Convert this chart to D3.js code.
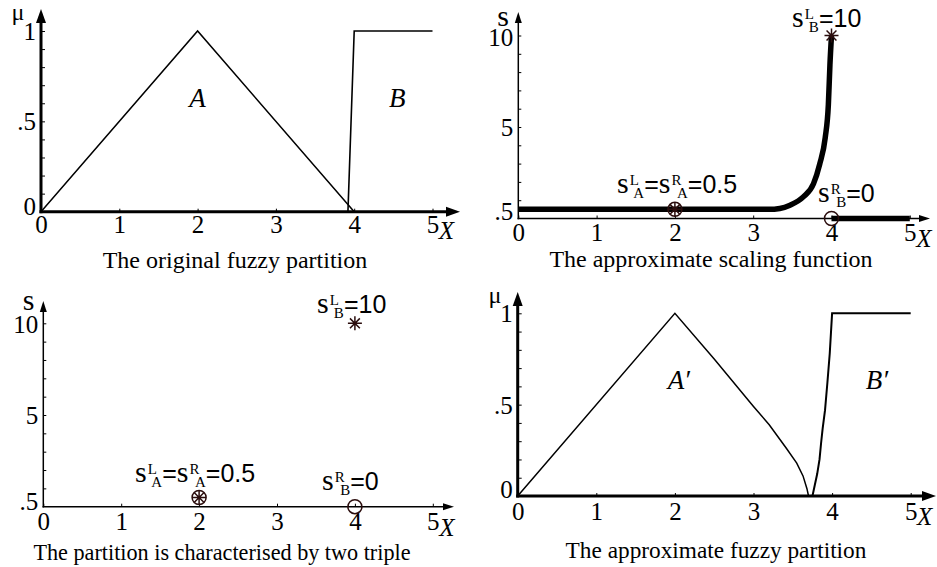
<!DOCTYPE html>
<html><head><meta charset="utf-8">
<script src="https://cdn.jsdelivr.net/npm/d3@7"></script>
<style>
html,body{margin:0;padding:0;background:#fff;}
svg{display:block;}
text{font-family:"Liberation Serif","Times New Roman",serif;fill:#000;}
</style></head><body>
<svg id="fig" width="937" height="567"></svg>
<script>
// shared tick values
const xTickValues = [0, 1, 2, 3, 4, 5];
const muTickValues = [0, 0.5, 1];
const muTickLabels = ["0", ".5", "1"];
const sTickValues = [0.5, 5, 10];
const sTickLabels = [".5", "5", "10"];

// original fuzzy partition
const aX = [0, 2, 4];
const aMu = [0, 1, 0];
const bX = [3.92, 4, 5];
const bMu = [0, 1, 1];

// approximate scaling function
const scaleX = [0, 3.2, 3.34, 3.47, 3.64, 3.77, 3.85, 3.92, 3.96, 3.98, 4.0];
const scaleS = [0.5, 0.5, 0.55, 0.73, 1.18, 1.9, 2.98, 4.42, 6.23, 8.4, 10];
const tailX = [4, 5];
const tailS = [0, 0];

// triples: position, left scaling, right scaling
const tripleX = [2, 4];
const tripleSL = [0.5, 10];
const tripleSR = [0.5, 0];

// approximate fuzzy partition
const aPX = [0, 2, 2.5, 3.0, 3.2, 3.42, 3.55, 3.63, 3.68, 3.70];
const aPMu = [0, 1, 0.75, 0.49, 0.39, 0.26, 0.18, 0.11, 0.04, 0];
const bPX = [3.75, 3.78, 3.81, 3.84, 3.86, 3.88, 3.91, 3.94, 3.97, 4.0, 5];
const bPMu = [0, 0.06, 0.12, 0.2, 0.29, 0.37, 0.47, 0.62, 0.78, 1, 1];

const svg = d3.select("#fig");
const SANS = "'Liberation Sans', Arial, sans-serif";
const MARK = "#2b0d0d";

function arrowUp(g, x, tip, len, w) {
  g.append("path").attr("d", `M${x},${tip} L${x - w / 2},${tip + len} L${x + w / 2},${tip + len} Z`).attr("fill", "#000");
}
function arrowRight(g, tip, y, len, w) {
  g.append("path").attr("d", `M${tip},${y} L${tip - len},${y - w / 2} L${tip - len},${y + w / 2} Z`).attr("fill", "#000");
}

function makePanel(c) {
  const g = svg.append("g");
  const x = d3.scaleLinear().domain([0, 5]).range(c.xr);
  const y = d3.scaleLinear().domain(c.yd).range(c.yr);
  const x0 = x(0), y0 = y(0);

  // minor ticks on the vertical axis, pointing into the plot
  g.append("g").attr("transform", `translate(${x0},0)`)
    .call(d3.axisRight(y).tickValues(c.minor).tickSize(c.tickLen).tickFormat(""))
    .call(s => s.select(".domain").remove())
    .selectAll("line").attr("stroke", "#000").attr("stroke-width", 1);

  // horizontal axis ticks and labels
  const xa = g.append("g").attr("transform", `translate(0,${y0})`)
    .call(d3.axisBottom(x).tickValues(xTickValues).tickSize(-3).tickPadding(c.xPad).tickFormat(d3.format("d")))
    .call(s => s.select(".domain").remove());
  xa.selectAll("line").attr("stroke", "#000").attr("stroke-width", 1);
  xa.selectAll("text").attr("font-family", "'Liberation Serif', serif").attr("font-size", 25).attr("fill", "#000");

  // axis lines with arrowheads
  g.append("line").attr("x1", x0).attr("x2", x0).attr("y1", y0 + c.aw / 2).attr("y2", c.tipY + c.al - 1)
    .attr("stroke", "#000").attr("stroke-width", c.aw);
  g.append("line").attr("x1", x0 - c.aw / 2).attr("x2", c.tipX - c.al + 1).attr("y1", y0).attr("y2", y0)
    .attr("stroke", "#000").attr("stroke-width", c.aw);
  arrowUp(g, x0, c.tipY, c.al, c.awid);
  arrowRight(g, c.tipX, y0, c.al, c.awid);

  // vertical tick labels
  c.yVals.forEach((v, i) => {
    g.append("text").attr("x", x0 - 5).attr("y", y(v) + c.yLabDy[i])
      .attr("text-anchor", "end").attr("font-size", 25).text(c.yLabs[i]);
  });

  // axis names
  g.append("text").attr("x", c.yName[0]).attr("y", c.yName[1]).attr("text-anchor", "middle")
    .attr("font-size", c.yName[3]).text(c.yName[2]);
  g.append("text").attr("x", x(5) + 14).attr("y", y0 + c.xPad + 23).attr("text-anchor", "middle")
    .attr("font-size", 25).attr("font-style", "italic").text("X");

  // caption
  g.append("text").attr("x", c.title[0]).attr("y", c.title[1]).attr("text-anchor", "middle")
    .attr("font-size", c.title[3]).text(c.title[2]);
  return { g, x, y };
}

// "s" with stacked super/subscripts followed by a value
function sLabel(g, px, py, items, tail) {
  const t = g.append("text").attr("x", px).attr("y", py);
  items.forEach((it, i) => {
    t.append("tspan").attr("font-size", 30).attr("dy", 0).text("s");
    t.append("tspan").attr("font-size", 15).attr("dy", -8).attr("dx", 1).text(it.sup);
    t.append("tspan").attr("font-size", 15).attr("dy", 13).attr("dx", it.subDx).text(it.sub);
    if (i < items.length - 1) {
      t.append("tspan").attr("font-size", 25).attr("font-family", SANS).attr("dy", -5).text("=");
    }
  });
  t.append("tspan").attr("font-size", 25).attr("font-family", SANS).attr("dy", -5).text(tail);
}

function asterisk(g, cx, cy, r) {
  const d = [0, 45, 90, 135].map(a => {
    const rad = a * Math.PI / 180, dx = r * Math.cos(rad), dy = r * Math.sin(rad);
    return `M${cx - dx},${cy - dy}L${cx + dx},${cy + dy}`;
  }).join("");
  g.append("path").attr("d", d).attr("stroke", MARK).attr("stroke-width", 1.5).attr("fill", "none");
}
function ring(g, cx, cy, r) {
  g.append("circle").attr("cx", cx).attr("cy", cy).attr("r", r)
    .attr("fill", "none").attr("stroke", MARK).attr("stroke-width", 1.5);
}

const muMinor = d3.range(1, 11).map(d => d / 10);
const sMinor = d3.range(1, 11);

// ---- panel 1: original partition
const p1 = makePanel({
  xr: [41, 432.5], yd: [0, 1], yr: [211.7, 31], minor: muMinor, tickLen: 4,
  tipX: 460, tipY: 9, aw: 3, al: 14, awid: 10, xPad: 4,
  yVals: muTickValues, yLabs: muTickLabels, yLabDy: [3, 9, 9],
  yName: [18, 20, "μ", 24], title: [235, 268, "The original fuzzy partition", 24]
});
const line1 = d3.line().x(d => p1.x(d[0])).y(d => p1.y(d[1]));
p1.g.append("path").attr("d", line1(d3.zip(aX, aMu))).attr("fill", "none").attr("stroke", "#000").attr("stroke-width", 1.5);
p1.g.append("path").attr("d", line1(d3.zip(bX, bMu))).attr("fill", "none").attr("stroke", "#000").attr("stroke-width", 1.6);
p1.g.append("text").attr("x", p1.x(2)).attr("y", 107).attr("text-anchor", "middle").attr("font-size", 27).attr("font-style", "italic").text("A");
p1.g.append("text").attr("x", p1.x(4.55)).attr("y", 107).attr("text-anchor", "middle").attr("font-size", 27).attr("font-style", "italic").text("B");

// ---- panel 2: approximate scaling function
const p2 = makePanel({
  xr: [518.3, 909.8], yd: [0, 10], yr: [218.5, 35.5], minor: sMinor, tickLen: 3,
  tipX: 930, tipY: 12, aw: 1.5, al: 11, awid: 7, xPad: 5,
  yVals: sTickValues, yLabs: sTickLabels, yLabDy: [11, 9, 10],
  yName: [503, 26, "s", 30], title: [711, 267, "The approximate scaling function", 24]
});
const line2 = d3.line().x(d => p2.x(d[0])).y(d => p2.y(d[1])).curve(d3.curveMonotoneX);
p2.g.append("path").attr("d", line2(d3.zip(scaleX, scaleS))).attr("fill", "none").attr("stroke", "#000").attr("stroke-width", 5.5);
p2.g.append("path").attr("d", d3.line().x(d => p2.x(d[0])).y(d => p2.y(d[1]))(d3.zip(tailX, tailS))).attr("fill", "none").attr("stroke", "#000").attr("stroke-width", 5.5);

// ---- panel 3: the two triples
const p3 = makePanel({
  xr: [43.3, 432.8], yd: [0, 10], yr: [506.7, 323.3], minor: sMinor, tickLen: 3,
  tipX: 454, tipY: 301, aw: 1.5, al: 11, awid: 7, xPad: 6,
  yVals: sTickValues, yLabs: sTickLabels, yLabDy: [12, 9, 10],
  yName: [28.5, 310, "s", 30], title: [222, 560, "The partition is characterised by two triple", 22.2]
});

[p2, p3].forEach(p => {
  tripleX.forEach((tx, i) => {
    asterisk(p.g, p.x(tx), p.y(tripleSL[i]), 7);
    ring(p.g, p.x(tx), p.y(tripleSR[i]), 7);
  });
});
sLabel(p2.g, 792, 27, [{ sup: "L", sub: "B", subDx: -5 }], "=10");
sLabel(p2.g, 617, 193, [{ sup: "L", sub: "A", subDx: -5.5 }, { sup: "R", sub: "A", subDx: -4.5 }], "=0.5");
sLabel(p2.g, 818, 202, [{ sup: "R", sub: "B", subDx: -4.5 }], "=0");
sLabel(p3.g, 317, 313, [{ sup: "L", sub: "B", subDx: -5 }], "=10");
sLabel(p3.g, 135, 482, [{ sup: "L", sub: "A", subDx: -5.5 }, { sup: "R", sub: "A", subDx: -4.5 }], "=0.5");
sLabel(p3.g, 322, 490, [{ sup: "R", sub: "B", subDx: -4.5 }], "=0");

// ---- panel 4: approximate partition
const p4 = makePanel({
  xr: [517.7, 910.7], yd: [0, 1], yr: [496, 313.3], minor: muMinor, tickLen: 4,
  tipX: 936, tipY: 292, aw: 3, al: 14, awid: 10, xPad: 6,
  yVals: muTickValues, yLabs: muTickLabels, yLabDy: [2, 9, 9],
  yName: [495, 303, "μ", 24], title: [716, 558, "The approximate fuzzy partition", 23.3]
});
const line4 = d3.line().x(d => p4.x(d[0])).y(d => p4.y(d[1]));
p4.g.append("path").attr("d", line4(d3.zip(aPX, aPMu))).attr("fill", "none").attr("stroke", "#000").attr("stroke-width", 1.5);
p4.g.append("path").attr("d", line4(d3.zip(bPX, bPMu))).attr("fill", "none").attr("stroke", "#000").attr("stroke-width", 2);
p4.g.append("text").attr("x", p4.x(2.05)).attr("y", 389).attr("text-anchor", "middle").attr("font-size", 27).attr("font-style", "italic").text("A′");
p4.g.append("text").attr("x", p4.x(4.57)).attr("y", 389).attr("text-anchor", "middle").attr("font-size", 27).attr("font-style", "italic").text("B′");
</script>
</body></html>
